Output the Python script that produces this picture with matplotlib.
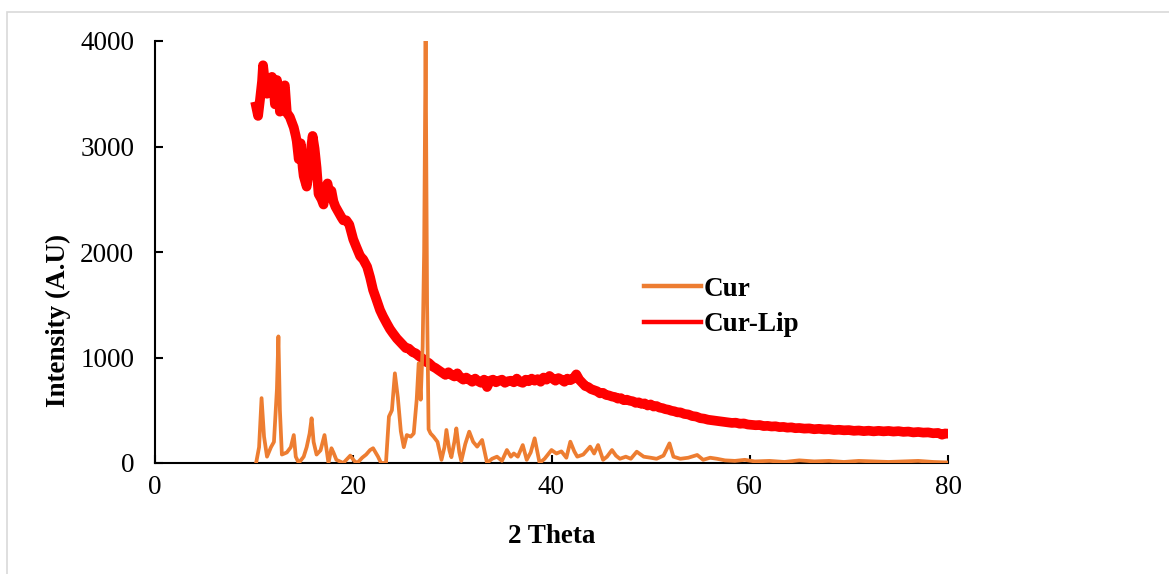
import matplotlib
matplotlib.use("Agg")
import matplotlib.pyplot as plt
from matplotlib.patches import Rectangle

plt.rcParams['font.family'] = ['Liberation Serif', 'DejaVu Serif']

# Cur (pure curcumin)
cur_x = [10.2, 10.5, 10.75, 11.0, 11.3, 11.7, 12.0, 12.3, 12.45, 12.6,
         12.8, 13.3, 13.7, 14.0, 14.2, 14.5, 15.0, 15.3, 15.6, 15.8,
         16.0, 16.3, 16.7, 17.1, 17.5, 17.8, 18.0, 18.3, 19.0, 19.7,
         20.1, 20.4, 20.9, 21.3, 21.7, 22.0, 22.5, 22.8, 23.3, 23.6,
         23.9, 24.2, 24.5, 24.8, 25.1, 25.4, 25.8, 26.1, 26.4, 26.6,
         26.8, 27.0, 27.15, 27.3, 27.45, 27.6, 27.8, 28.1, 28.5, 28.9,
         29.2, 29.4, 29.7, 29.9, 30.2, 30.4, 30.7, 30.9, 31.3, 31.7,
         32.1, 32.5, 33.0, 33.5, 34.0, 34.5, 35.0, 35.5, 35.9, 36.2,
         36.6, 37.1, 37.5, 37.9, 38.3, 38.8, 39.3, 40.0, 40.5, 41.0,
         41.5, 41.9, 42.3, 42.6, 43.2, 43.9, 44.3, 44.7, 45.2, 45.6,
         46.1, 46.5, 46.9, 47.5, 48.0, 48.6, 49.3, 50.0, 50.6, 51.3,
         51.9, 52.3, 53.0, 53.8, 54.7, 55.3, 56.0, 56.7, 57.5, 58.5,
         59.5, 60.5, 62.0, 63.5, 65.0, 66.5, 68.0, 69.5, 71.0, 72.5,
         74.0, 75.5, 77.0, 78.5, 80.0]
cur_y = [0, 150, 615, 250, 60, 150, 200, 700, 1200, 500,
         80, 100, 150, 265, 60, 0, 60, 150, 280, 424,
         200, 80, 120, 265, 0, 140, 100, 30, 0, 70,
         20, 0, 50, 80, 123, 140, 60, 0, 0, 440,
         500, 850, 620, 300, 150, 265, 250, 280, 600, 945,
         600, 1100, 2000, 4000, 1500, 320, 280, 250, 200, 30,
         150, 313, 120, 55, 200, 328, 100, 20, 180, 297,
         200, 155, 218, 0, 40, 60, 20, 123, 60, 90,
         60, 170, 30, 100, 234, 0, 40, 123, 90, 110,
         50, 202, 110, 60, 80, 155, 90, 170, 30, 60,
         123, 70, 40, 60, 40, 107, 60, 50, 40, 70,
         186, 60, 40, 50, 76, 30, 50, 40, 25, 20,
         30, 15, 20, 10, 25, 15, 20, 10, 20, 15,
         10, 15, 20, 10, 5]

# Cur-Lip (liposomal curcumin)
lip_x = [10.2, 10.4, 10.6, 10.8, 10.9, 11.1, 11.3, 11.5, 11.6, 11.8,
         12.0, 12.1, 12.3, 12.5, 12.6, 12.8, 13.0, 13.1, 13.3, 13.6,
         13.8, 14.0, 14.2, 14.3, 14.5, 14.7, 14.9, 15.0, 15.3, 15.5,
         15.7, 15.9, 16.1, 16.3, 16.5, 16.8, 17.0, 17.2, 17.4, 17.6,
         17.8, 18.0, 18.2, 18.5, 18.8, 19.0, 19.3, 19.6, 20.0, 20.3,
         20.7, 21.0, 21.4, 21.7, 22.0, 22.3, 22.7, 23.0, 23.4, 23.7,
         24.0, 24.4, 24.7, 25.0, 25.3, 25.6, 26.0, 26.3, 26.6, 27.0,
         27.3, 27.6, 28.0, 28.3, 28.6, 29.0, 29.3, 29.6, 29.9, 30.2,
         30.5, 30.8, 31.1, 31.4, 31.7, 32.0, 32.3, 32.6, 32.9, 33.2,
         33.5, 33.8, 34.1, 34.4, 34.7, 35.0, 35.3, 35.6, 35.9, 36.2,
         36.5, 36.8, 37.1, 37.4, 37.7, 38.0, 38.3, 38.6, 38.9, 39.2,
         39.5, 39.8, 40.1, 40.4, 40.7, 41.0, 41.3, 41.6, 41.9, 42.2,
         42.5, 42.8, 43.1, 43.4, 43.7, 44.0, 44.3, 44.6, 44.9, 45.2,
         45.5, 45.8, 46.1, 46.4, 46.7, 47.0, 47.3, 47.6, 47.9, 48.2,
         48.5, 48.8, 49.1, 49.4, 49.7, 50.0, 50.3, 50.6, 50.9, 51.2,
         51.5, 51.8, 52.1, 52.4, 52.7, 53.0, 53.4, 53.8, 54.2, 54.6,
         55.0, 55.4, 55.8, 56.2, 56.6, 57.0, 57.4, 57.8, 58.2, 58.6,
         59.0, 59.4, 59.8, 60.2, 60.6, 61.0, 61.4, 61.8, 62.2, 62.6,
         63.0, 63.4, 63.8, 64.2, 64.6, 65.0, 65.5, 66.0, 66.5, 67.0,
         67.5, 68.0, 68.5, 69.0, 69.5, 70.0, 70.5, 71.0, 71.5, 72.0,
         72.5, 73.0, 73.5, 74.0, 74.5, 75.0, 75.5, 76.0, 76.5, 77.0,
         77.5, 78.0, 78.5, 79.0, 79.4, 79.7, 80.0]
lip_y = [3380, 3290, 3450, 3620, 3770, 3600, 3500, 3650, 3600, 3660,
         3520, 3400, 3630, 3480, 3330, 3450, 3560, 3580, 3320, 3280,
         3230, 3180, 3100, 3050, 2880, 3030, 2800, 2720, 2620, 2750,
         2950, 3100, 2980, 2800, 2550, 2500, 2450, 2600, 2650, 2560,
         2580, 2480, 2430, 2380, 2330, 2300, 2300, 2260, 2120, 2050,
         1960, 1930, 1860, 1760, 1640, 1560, 1450, 1390, 1320, 1270,
         1230, 1180, 1150, 1120, 1090, 1085, 1050, 1040, 1015, 990,
         960, 950, 915, 900, 880, 855, 835, 860, 835, 820,
         850, 810, 790, 810, 790, 770, 800, 775, 760, 790,
         720, 780, 790, 765, 780, 790, 760, 775, 780, 765,
         800, 770, 760, 790, 775, 800, 780, 795, 770, 810,
         790, 825, 800, 780, 805, 790, 770, 800, 785, 800,
         840, 790, 760, 730, 720, 700, 690, 680, 660, 665,
         645, 640, 630, 625, 610, 615, 595, 600, 590, 585,
         570, 575, 560, 565, 545, 555, 535, 540, 525, 520,
         510, 505, 495, 490, 480, 480, 465, 460, 445, 440,
         425, 420, 410, 405, 400, 395, 390, 385, 380, 382,
         372, 375, 365, 362, 358, 360, 350, 352, 346, 348,
         340, 342, 335, 338, 330, 332, 326, 328, 320, 324,
         318, 320, 312, 315, 310, 312, 305, 308, 302, 306,
         300, 305, 300, 304, 298, 302, 295, 298, 290, 294,
         288, 290, 282, 285, 268, 280, 278]

x_ticks = [0, 20, 40, 60, 80]
y_ticks = [0, 1000, 2000, 3000, 4000]

fig = plt.figure(figsize=(11.69, 5.74), dpi=100)
ax = fig.add_axes([155 / 1169, 111 / 574, 793 / 1169, 422 / 574])

ax.plot(cur_x, cur_y, color='#ED7D31', linewidth=2.7, label='Cur', zorder=3)
ax.plot(lip_x, lip_y, color='#FF0000', linewidth=7, label='Cur-Lip', zorder=2)

ax.set_xlim(0, 80)
ax.set_ylim(0, 4000)
ax.set_xticks(x_ticks)
ax.set_yticks(y_ticks)
ax.tick_params(axis='both', direction='in', length=6, width=1.5, labelsize=19.5)
ax.tick_params(axis='y', pad=15)
ax.tick_params(axis='x', pad=9)

for side in ['top', 'right']:
    ax.spines[side].set_visible(False)
for side in ['left', 'bottom']:
    ax.spines[side].set_linewidth(1.5)

ax.set_xlabel('2 Theta', fontsize=19.5, fontweight='bold', labelpad=17)
ax.set_ylabel('Intensity (A.U)', fontsize=19.5, fontweight='bold')
ax.yaxis.set_label_coords(-0.106, 0.339)

leg = ax.legend(loc='center left', bbox_to_anchor=(0.60, 0.37), frameon=False,
                prop={'size': 19.5, 'weight': 'bold'}, handlelength=2.1,
                handletextpad=0.1, borderpad=0, labelspacing=0.38)
for line in leg.get_lines():
    line.set_linewidth(3.2)

# chart area border (Excel style)
fig.patches.append(Rectangle((7 / 1169, -0.5), 2, 0.5 + 562 / 574,
                             transform=fig.transFigure, fill=False,
                             edgecolor='#d9d9d9', linewidth=1.2))

fig.savefig('out.png', dpi=100)
